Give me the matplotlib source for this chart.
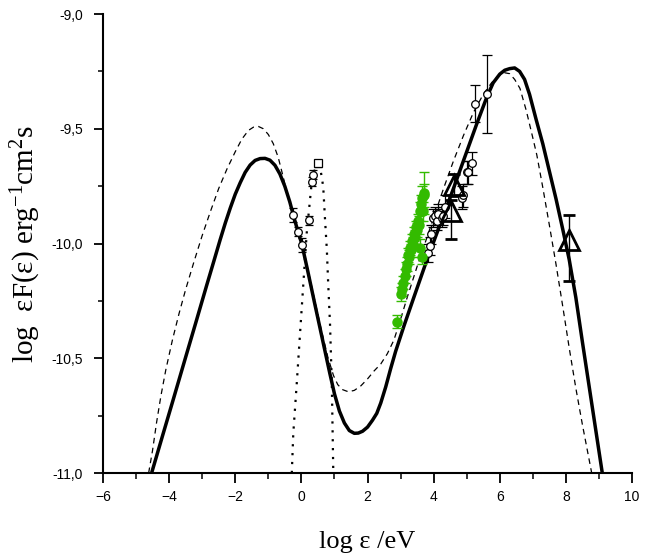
import numpy as np
import matplotlib
matplotlib.use("Agg")
import matplotlib.pyplot as plt
from matplotlib.ticker import MultipleLocator, FuncFormatter

plt.rcParams['font.family'] = ['Liberation Sans', 'DejaVu Sans']
plt.rcParams['mathtext.fontset'] = 'custom'
plt.rcParams['mathtext.rm'] = 'Liberation Serif'
plt.rcParams['mathtext.it'] = 'Liberation Serif:italic'

# model curves (log eps, log eps F)
solid_x = [-4.53, -4.2, -3.87, -3.5, -3.2, -2.86, -2.65, -2.46, -2.3, -2.15, -2.0, -1.85,
           -1.7, -1.55, -1.4, -1.25, -1.1, -0.95, -0.8, -0.65, -0.5, -0.35, -0.245, -0.1,
           0.01, 0.2, 0.4, 0.6, 0.86, 1.0, 1.15, 1.3, 1.45, 1.6, 1.72, 1.85, 2.0, 2.15, 2.28,
           2.4, 2.55, 2.7, 2.85, 3.1, 3.4, 3.8, 4.2, 4.6, 5.0, 5.3, 5.6, 5.8, 6.0, 6.15, 6.3,
           6.45, 6.6, 6.75, 6.9, 7.1, 7.3, 7.5, 7.7, 7.9, 8.1, 8.3, 8.5, 8.7, 8.9, 9.1]
solid_y = [-11.0, -10.838, -10.677, -10.495, -10.348, -10.18, -10.078, -9.985, -9.91,
           -9.845, -9.785, -9.735, -9.69, -9.658, -9.638, -9.630, -9.629, -9.637, -9.659,
           -9.697, -9.751, -9.819, -9.876, -9.95, -10.0, -10.125, -10.26, -10.393, -10.566,
           -10.655, -10.73, -10.782, -10.815, -10.827, -10.826, -10.818, -10.80, -10.77,
           -10.74, -10.695, -10.625, -10.545, -10.47, -10.36, -10.235, -10.07, -9.915,
           -9.76, -9.60, -9.48, -9.365, -9.30, -9.262, -9.245, -9.238, -9.235, -9.25,
           -9.285, -9.35, -9.46, -9.565, -9.685, -9.805, -9.935, -10.07, -10.235, -10.43,
           -10.62, -10.81, -11.0]

dash_x = [-4.62, -4.5, -4.38, -4.25, -4.1, -3.9, -3.7, -3.5, -3.25, -3.0, -2.75, -2.5, -2.25,
          -2.0, -1.8, -1.6, -1.45, -1.3, -1.15, -1.0, -0.85, -0.7, -0.55, -0.4, -0.2, 0.0,
          0.2, 0.4, 0.6, 0.8, 0.97, 1.1, 1.25, 1.42, 1.6, 1.8, 2.0, 2.2, 2.4, 2.6, 2.8, 3.0,
          3.2, 3.5, 3.9, 4.3, 4.6, 4.9, 5.2, 5.5, 5.75, 5.95, 6.15, 6.3, 6.45, 6.61, 6.8,
          7.0, 7.12, 7.3, 7.5, 7.7, 7.9, 8.1, 8.3, 8.5, 8.78]
dash_y = [-11.0, -10.9, -10.78, -10.665, -10.55, -10.42, -10.305, -10.2, -10.08, -9.965,
          -9.86, -9.76, -9.675, -9.6, -9.545, -9.507, -9.493, -9.49, -9.5, -9.525, -9.565,
          -9.625, -9.71, -9.8, -9.9, -9.995, -10.115, -10.245, -10.375, -10.495, -10.575,
          -10.615, -10.637, -10.646, -10.64, -10.62, -10.59, -10.555, -10.525, -10.48,
          -10.42, -10.33, -10.235, -10.1, -9.93, -9.76, -9.64, -9.53, -9.43, -9.35, -9.3,
          -9.27, -9.256, -9.26, -9.285, -9.324, -9.42, -9.54, -9.614, -9.755, -9.92,
          -10.09, -10.27, -10.455, -10.63, -10.79, -11.0]

dot_x = [-0.29, -0.245, -0.14, -0.04, 0.06, 0.16, 0.21, 0.31, 0.38, 0.45, 0.51, 0.58, 0.66,
         0.71, 0.77, 0.81, 0.865, 0.92, 0.965]
dot_y = [-11.0, -10.827, -10.609, -10.39, -10.173, -9.956, -9.883, -9.738, -9.69, -9.662,
         -9.655, -9.68, -9.752, -9.883, -10.028, -10.173, -10.348, -10.609, -11.0]

# optical points
opt_x = [-0.245, -0.09, 0.01, 0.24, 0.31, 0.36]
opt_y = [-9.876, -9.949, -10.007, -9.898, -9.73, -9.70]
opt_e = [0.03, 0.02, 0.03, 0.02, 0.02, 0.02]
sq_x = [0.51]
sq_y = [-9.65]

# X-ray (green)
xr_x = [2.90, 3.00, 3.04, 3.08, 3.12, 3.16, 3.20, 3.22, 3.26, 3.28, 3.32, 3.34, 3.38, 3.40,
        3.44, 3.46, 3.50, 3.52, 3.55, 3.58, 3.60, 3.62, 3.64, 3.66, 3.68, 3.70, 3.72]
xr_y = [-10.34, -10.22, -10.20, -10.17, -10.14, -10.11, -10.09, -10.05, -10.06, -10.02,
        -10.03, -9.99, -10.00, -9.96, -9.97, -9.93, -9.94, -9.90, -9.92, -9.86, -10.02,
        -9.83, -10.06, -9.80, -9.86, -9.79, -9.78]
xr_e = [0.03, 0.03, 0.03, 0.03, 0.03, 0.03, 0.03, 0.03, 0.03, 0.03, 0.03, 0.03, 0.03, 0.03,
        0.03, 0.03, 0.03, 0.03, 0.04, 0.04, 0.04, 0.04, 0.03, 0.05, 0.04, 0.05, 0.09]

# hard X-ray / gamma open circles
hx_x = [3.82, 3.88, 3.92, 3.99, 4.04, 4.09, 4.14, 4.24, 4.29, 4.34, 4.85, 4.90, 5.00, 5.05,
        5.15, 5.25, 5.62]
hx_y = [-10.04, -10.01, -9.96, -9.89, -9.88, -9.90, -9.87, -9.89, -9.88, -9.84, -9.80,
        -9.79, -9.69, -9.69, -9.65, -9.39, -9.35]
hx_e = [0.04, 0.04, 0.04, 0.04, 0.04, 0.04, 0.04, 0.04, 0.04, 0.05, 0.05, 0.05, 0.05, 0.05,
        0.05, 0.08, 0.17]

# triangles
tr_x = [4.62, 4.52, 8.1]
tr_y = [-9.745, -9.86, -9.985]
tr_elo = [0.05, 0.12, 0.18]
tr_ehi = [0.05, 0.05, 0.11]

green = '#33bb00'

fig = plt.figure(figsize=(6.45, 5.58), dpi=100)
ax = fig.add_axes([0.1597, 0.1523, 0.8202, 0.8226])

ax.plot(dash_x, dash_y, color='black', lw=0.9, ls=(0, (4.5, 3.5)))
ax.plot(dot_x, dot_y, color='black', lw=1.6, ls=(0, (1, 3)))
ax.plot(solid_x, solid_y, color='black', lw=2.5, solid_joinstyle='round')

ax.errorbar(opt_x, opt_y, yerr=opt_e, fmt='o', ms=5.5, mfc='white', mec='black', mew=0.9,
            ecolor='black', elinewidth=0.9, capsize=3)
ax.errorbar(sq_x, sq_y, yerr=0.015, fmt='s', ms=5.5, mfc='white', mec='black', mew=0.9,
            ecolor='black', elinewidth=0.9, capsize=3)
ax.errorbar(hx_x, hx_y, yerr=hx_e, fmt='o', ms=5.5, mfc='white', mec='black', mew=0.9,
            ecolor='black', elinewidth=0.9, capsize=3.5)
ax.errorbar(xr_x, xr_y, yerr=xr_e, fmt='o', ms=6.5, mfc=green, mec=green,
            ecolor=green, elinewidth=1.0, capsize=3.5)
ax.errorbar(tr_x, tr_y, yerr=[tr_elo, tr_ehi], fmt='^', ms=15, mfc='none', mec='black',
            mew=2.0, ecolor='black', elinewidth=1.0, capsize=4)

ax.set_xlim(-6, 10)
ax.set_ylim(-11, -9)
ax.spines['top'].set_visible(False)
ax.spines['right'].set_visible(False)
ax.spines['left'].set_linewidth(1.5)
ax.spines['bottom'].set_linewidth(1.5)
ax.xaxis.set_major_locator(MultipleLocator(2))
ax.xaxis.set_minor_locator(MultipleLocator(1))
ax.yaxis.set_major_locator(MultipleLocator(0.5))
ax.yaxis.set_minor_locator(MultipleLocator(0.25))
ax.yaxis.set_major_formatter(FuncFormatter(lambda v, p: ('%.1f' % v).replace('.', ',')))
ax.tick_params(axis='y', which='major', direction='out', length=6.5, width=1.3,
               labelsize=10, pad=8)
ax.tick_params(axis='y', which='minor', direction='out', length=3.6, width=1.1)
ax.tick_params(axis='x', which='major', direction='out', length=7.5, width=1.3,
               labelsize=10, pad=5)
ax.tick_params(axis='x', which='minor', direction='out', length=4.5, width=1.1)

ax.set_xlabel('log ε /eV', family='Liberation Serif', fontsize=19, labelpad=19)
ax.set_ylabel('log  εF(ε) erg$^{-1}$cm$^{2}$s', family='Liberation Serif', fontsize=21,
              labelpad=6)

fig.savefig('out.png', dpi=100)
